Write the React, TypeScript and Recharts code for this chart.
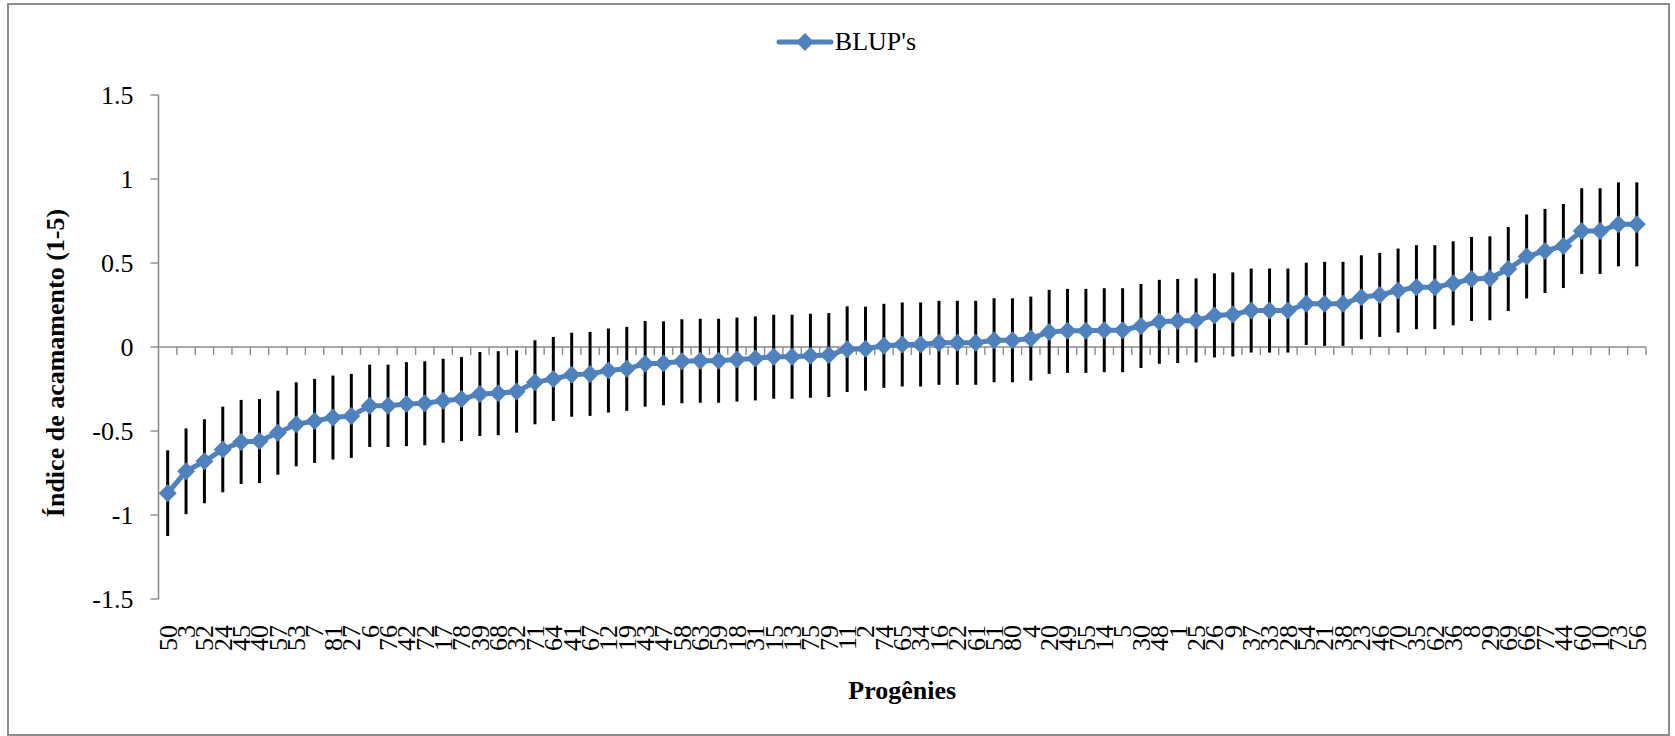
import React from "react";
import {
  LineChart,
  Line,
  XAxis,
  YAxis,
  ErrorBar,
  ReferenceLine,
  Legend,
  Label,
} from "recharts";

// Progenies, ordered by their BLUP
const progenies = [
  "50", "3", "52", "24", "45", "40", "57", "53", "7", "81", "27", "6", "76", "42",
  "72", "17", "78", "39", "68", "32", "71", "64", "41", "67", "12", "19", "43", "47",
  "58", "63", "59", "18", "31", "15", "13", "75", "79", "11", "2", "74", "65", "34",
  "16", "22", "61", "51", "80", "4", "20", "49", "55", "14", "5", "30", "48", "1",
  "25", "26", "9", "37", "33", "28", "54", "21", "38", "23", "46", "70", "35", "62",
  "36", "8", "29", "69", "66", "77", "44", "60", "10", "73", "56",
];

const blups = [
  -0.87, -0.74, -0.68, -0.61, -0.565, -0.56, -0.51, -0.46, -0.44, -0.42, -0.41, -0.35,
  -0.35, -0.34, -0.335, -0.32, -0.31, -0.28, -0.275, -0.265, -0.21, -0.19, -0.165, -0.16,
  -0.14, -0.13, -0.1, -0.097, -0.085, -0.082, -0.082, -0.075, -0.068, -0.058, -0.058,
  -0.052, -0.048, -0.013, -0.01, 0.007, 0.015, 0.015, 0.025, 0.025, 0.025, 0.04, 0.04,
  0.05, 0.09, 0.096, 0.096, 0.1, 0.1, 0.125, 0.15, 0.155, 0.158, 0.188, 0.194, 0.217,
  0.217, 0.217, 0.257, 0.257, 0.257, 0.296, 0.31, 0.336, 0.356, 0.356, 0.379, 0.405,
  0.409, 0.464, 0.539, 0.572, 0.601, 0.69, 0.69, 0.73, 0.73,
];

// half-length of the vertical bars (± around each BLUP)
const errors = [
  0.255, 0.255, 0.25, 0.255, 0.25, 0.25, 0.25, 0.25, 0.25, 0.25, 0.25, 0.245, 0.245,
  0.25, 0.25, 0.25, 0.25, 0.25, 0.25, 0.245, 0.25, 0.25, 0.25, 0.25, 0.25, 0.25, 0.255,
  0.25, 0.25, 0.25, 0.25, 0.25, 0.25, 0.25, 0.25, 0.25, 0.25, 0.255, 0.25, 0.25, 0.25,
  0.25, 0.25, 0.25, 0.25, 0.25, 0.25, 0.25, 0.25, 0.25, 0.25, 0.25, 0.25, 0.25, 0.25,
  0.25, 0.25, 0.25, 0.25, 0.25, 0.25, 0.25, 0.245, 0.25, 0.25, 0.25, 0.25, 0.25, 0.25,
  0.25, 0.25, 0.25, 0.25, 0.25, 0.25, 0.25, 0.25, 0.255, 0.255, 0.25, 0.25,
];

const yTicks = [-1.5, -1, -0.5, 0, 0.5, 1, 1.5];

const data = progenies.map((name, i) => ({ name, blup: blups[i], err: errors[i] }));

const BLUE = "#4F81BD";
const AXIS = "#8c8c8c";
const FONT = '"Liberation Serif", "Times New Roman", serif';

const Diamond = (props: any) => {
  const { cx, cy, index } = props;
  if (cx == null || cy == null) return <g key={index} />;
  const r = 9;
  return (
    <path
      key={index}
      d={`M${cx},${cy - r}L${cx + r},${cy}L${cx},${cy + r}L${cx - r},${cy}Z`}
      fill={BLUE}
    />
  );
};

// rotated category labels hanging below the plot
const ProgenyTick = (props: any) => {
  const { x, y, payload } = props;
  return (
    <text
      x={x}
      y={y}
      transform={`rotate(-90 ${x} ${y})`}
      textAnchor="end"
      dy="0.34em"
      fontSize={26}
      fontFamily={FONT}
      fill="#000"
    >
      {payload.value}
    </text>
  );
};

// horizontal axis crossing at zero, with a tick between each category
const ZeroAxis = (props: any) => {
  const { x1, x2, y1 } = props;
  const step = (x2 - x1) / data.length;
  return (
    <g>
      <line x1={x1} x2={x2} y1={y1} y2={y1} stroke={AXIS} strokeWidth={1.6} />
      {data.map((_, i) => (
        <line
          key={i}
          x1={x1 + (i + 1) * step}
          x2={x1 + (i + 1) * step}
          y1={y1}
          y2={y1 + 8}
          stroke={AXIS}
          strokeWidth={1.4}
        />
      ))}
    </g>
  );
};

const YTitle = (props: any) => {
  const { x, y, height } = props.viewBox;
  const cx = x + 64;
  const cy = y + height / 2 + 16;
  return (
    <text
      x={cx}
      y={cy}
      transform={`rotate(-90 ${cx} ${cy})`}
      textAnchor="middle"
      fontSize={26}
      fontWeight="bold"
      fontFamily={FONT}
      fill="#000"
    >
      Índice de acamamento (1-5)
    </text>
  );
};

const LegendContent = () => (
  <div
    style={{
      display: "flex",
      justifyContent: "center",
      alignItems: "center",
      height: 30,
      fontFamily: FONT,
      fontSize: 26,
      lineHeight: "30px",
      color: "#000",
    }}
  >
    <svg width={58} height={30} style={{ display: "block" }}>
      <line x1={3} x2={55} y1={15} y2={15} stroke={BLUE} strokeWidth={5} strokeLinecap="round" />
      <path d="M29,6L38,15L29,24L20,15Z" fill={BLUE} />
    </svg>
    <span style={{ marginLeft: 1 }}>BLUP's</span>
  </div>
);

export default function App() {
  return (
    <div
      style={{
        position: "absolute",
        left: 0,
        top: 0,
        width: 1675,
        height: 736,
        overflow: "hidden",
        background: "#fff",
        fontFamily: FONT,
      }}
    >
      <LineChart
        width={1675}
        height={736}
        data={data}
        margin={{ top: 95, right: 29, bottom: 0, left: 0 }}
      >
        <Legend
          verticalAlign="middle"
          align="center"
          wrapperStyle={{ top: 27, left: 17, width: 1658 }}
          content={() => <LegendContent />}
        />
        <XAxis
          dataKey="name"
          type="category"
          scale="band"
          interval={0}
          axisLine={false}
          tickLine={false}
          tickSize={0}
          tickMargin={26}
          height={137}
          tick={<ProgenyTick />}
        >
          <Label
            value="Progênies"
            position="insideBottom"
            offset={37}
            style={{ fontSize: 26, fontWeight: "bold", fontFamily: FONT, fill: "#000" }}
          />
        </XAxis>
        <YAxis
          type="number"
          domain={[-1.5, 1.5]}
          ticks={yTicks}
          width={158.5}
          axisLine={{ stroke: AXIS, strokeWidth: 1.6 }}
          tickLine={{ stroke: AXIS, strokeWidth: 1.4 }}
          tickSize={8}
          tickMargin={17}
          tick={{ fontSize: 26, fill: "#000", fontFamily: FONT }}
        >
          <Label content={<YTitle />} />
        </YAxis>
        <ReferenceLine y={0} shape={<ZeroAxis />} />
        <Line
          type="linear"
          dataKey="blup"
          stroke={BLUE}
          strokeWidth={5}
          dot={<Diamond />}
          activeDot={false}
          isAnimationActive={false}
        >
          <ErrorBar dataKey="err" width={0} stroke="#000" strokeWidth={3} direction="y" />
        </Line>
      </LineChart>
      <div
        style={{
          position: "absolute",
          left: 7,
          top: 3,
          width: 1663,
          height: 733,
          border: `2px solid ${AXIS}`,
          boxSizing: "border-box",
          pointerEvents: "none",
        }}
      />
    </div>
  );
}
